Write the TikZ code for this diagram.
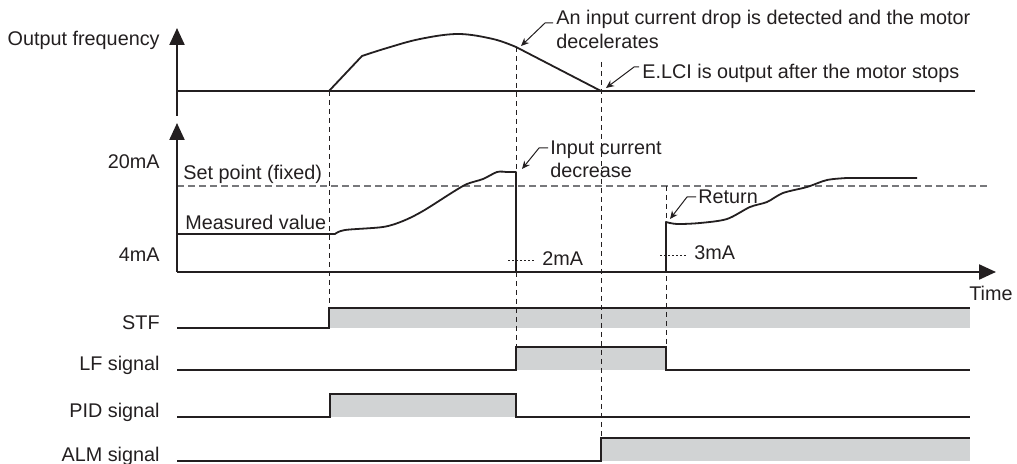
\documentclass[tikz,border=0pt]{standalone}
\usepackage{fontspec}
\setmainfont{Liberation Sans}
\usetikzlibrary{arrows.meta,positioning,calc}
\definecolor{TCInk}{HTML}{231F20}
\definecolor{TCFill}{HTML}{D1D3D4}
\definecolor{TCSet}{HTML}{77787B}

\begin{document}
\begin{tikzpicture}[
  x=0.5pt, y=-0.5pt,
  every node/.style={font=\fontsize{9.9}{12}\selectfont, text=TCInk, inner sep=0pt},
  lbl/.style={anchor=base east},
  note/.style={anchor=base west},
  axis/.style={line width=1.1pt, color=TCInk, -{Triangle[length=8.5pt,width=7.5pt]}},
  curve/.style={line width=0.9pt, color=TCInk, line join=round},
  sig/.style={line width=0.9pt, color=TCInk},
  onfill/.style={fill=TCFill},
  guide/.style={line width=0.45pt, color=TCInk, dash pattern=on 2.5pt off 2pt},
  setline/.style={line width=0.6pt, color=TCSet, dash pattern=on 3.5pt off 2pt},
  level/.style={line width=0.5pt, color=TCInk, dash pattern=on 1pt off 1pt},
  leader/.style={line width=0.5pt, color=TCInk, -{Stealth[length=4pt,width=3.5pt]}},
]
\useasboundingbox (0,0) rectangle (1017,464);

% --- Output frequency ---
\node[lbl] (outfreq) at (160,46) {Output frequency};
\draw[axis] (177,116) -- (177,28);
\draw[sig] (177,91) -- (975,91);

\coordinate (fstart) at (329,91);
\coordinate (fdecel) at (516,47);
\coordinate (fstop) at (601,91);
\draw[curve] (fstart) -- (362,56) -- plot[smooth, tension=0.6] coordinates
  {(362,56) (387,48) (420,39) (458,34) (493,39) (fdecel)} -- (fstop);

% --- Input current ---
\node[lbl] (ma20) at (160,169) {20mA};
\node[lbl] (ma4) at (160,262) {4mA};
\draw[setline] (177,186) -- (990,186);
\node[note] (setpt) at (183,180) {Set point (fixed)};
\node[note] (meas) at (185,230) {Measured value};

\draw[curve] (177,234) -- (335,234) -- plot[smooth, tension=0.5] coordinates
  {(335,234) (345,230) (383,227) (403,221) (423,211) (453,192) (467,184)
   (483,179) (497,172) (506,172)} -- (516,172) -- (516,272);
\draw[curve] (666,272) -- (666,222) -- plot[smooth, tension=0.5] coordinates
  {(666,222) (677,224) (700,223) (727,219) (750,207) (767,202) (783,193)
   (807,187) (827,180) (847,178)} -- (917,178);

\draw[axis] (177,272) -- (177,123);
\draw[axis] (177,272) -- (996,272);
\node[lbl] (time) at (1013,301) {Time};

\draw[level] (508,261) -- (536,261);
\node[note] (ma2) at (542,266) {2mA};
\draw[level] (660,256) -- (688,256);
\node[note] (ma3) at (694,260) {3mA};

% --- Signals: fills ---
\fill[onfill] (329,308) rectangle (970,328);
\fill[onfill] (516,347) rectangle (666,370);
\fill[onfill] (330,394) rectangle (516,417);
\fill[onfill] (601,438) rectangle (970,461);

% Guides
\draw[guide] (fstart) -- (329,308);
\draw[guide] (fdecel) -- (516,347);
\draw[guide] (601,62) -- (601,438);
\draw[guide] (666,186) -- (666,347);

% Signal lines
\node[lbl] (stf) at (160,330) {STF};
\draw[sig] (177,328) -- (329,328) -- (329,308) -- (970,308);
\node[lbl] (lf) at (160,371) {LF signal};
\draw[sig] (177,370) -- (516,370) -- (516,347) -- (666,347) -- (666,370) -- (970,370);
\node[lbl] (pid) at (160,418) {PID signal};
\draw[sig] (177,417) -- (330,417) -- (330,394) -- (516,394) -- (516,417) -- (970,417);
\node[lbl] (alm) at (160,461) {ALM signal};
\draw[sig] (177,461) -- (601,461) -- (601,438) -- (970,438);

% --- Notes ---
\node[note] (drop) at (556,25) {An input current drop is detected and the motor};
\node[note] (drop2) at ([yshift=-12pt]drop.base west) {decelerates};
\coordinate (decel) at (521,46);
\draw[leader] ([xshift=-1.5pt,yshift=1pt]drop.base west) -- ++(-8,0) -- (decel);

\node[note] (elci) at (642,79) {E.LCI is output after the motor stops};
\coordinate (stoptip) at (606,88);
\draw[leader] ([xshift=-1.5pt,yshift=6pt]elci.base west) -- ++(-5,0) -- (stoptip);

\node[note] (decr) at (550,155) {Input current};
\node[note] (decr2) at ([yshift=-11.5pt]decr.base west) {decrease};
\coordinate (droptip) at (522,169);
\draw[leader] ([xshift=-1pt,yshift=3.5pt]decr.base west) -- ++(-9,0) -- (droptip);

\node[note] (ret) at (698,204) {Return};
\coordinate (rettip) at (670,219);
\draw[leader] ([xshift=-1pt,yshift=3.5pt]ret.base west) -- ++(-9,0) -- (rettip);

\end{tikzpicture}
\end{document}
